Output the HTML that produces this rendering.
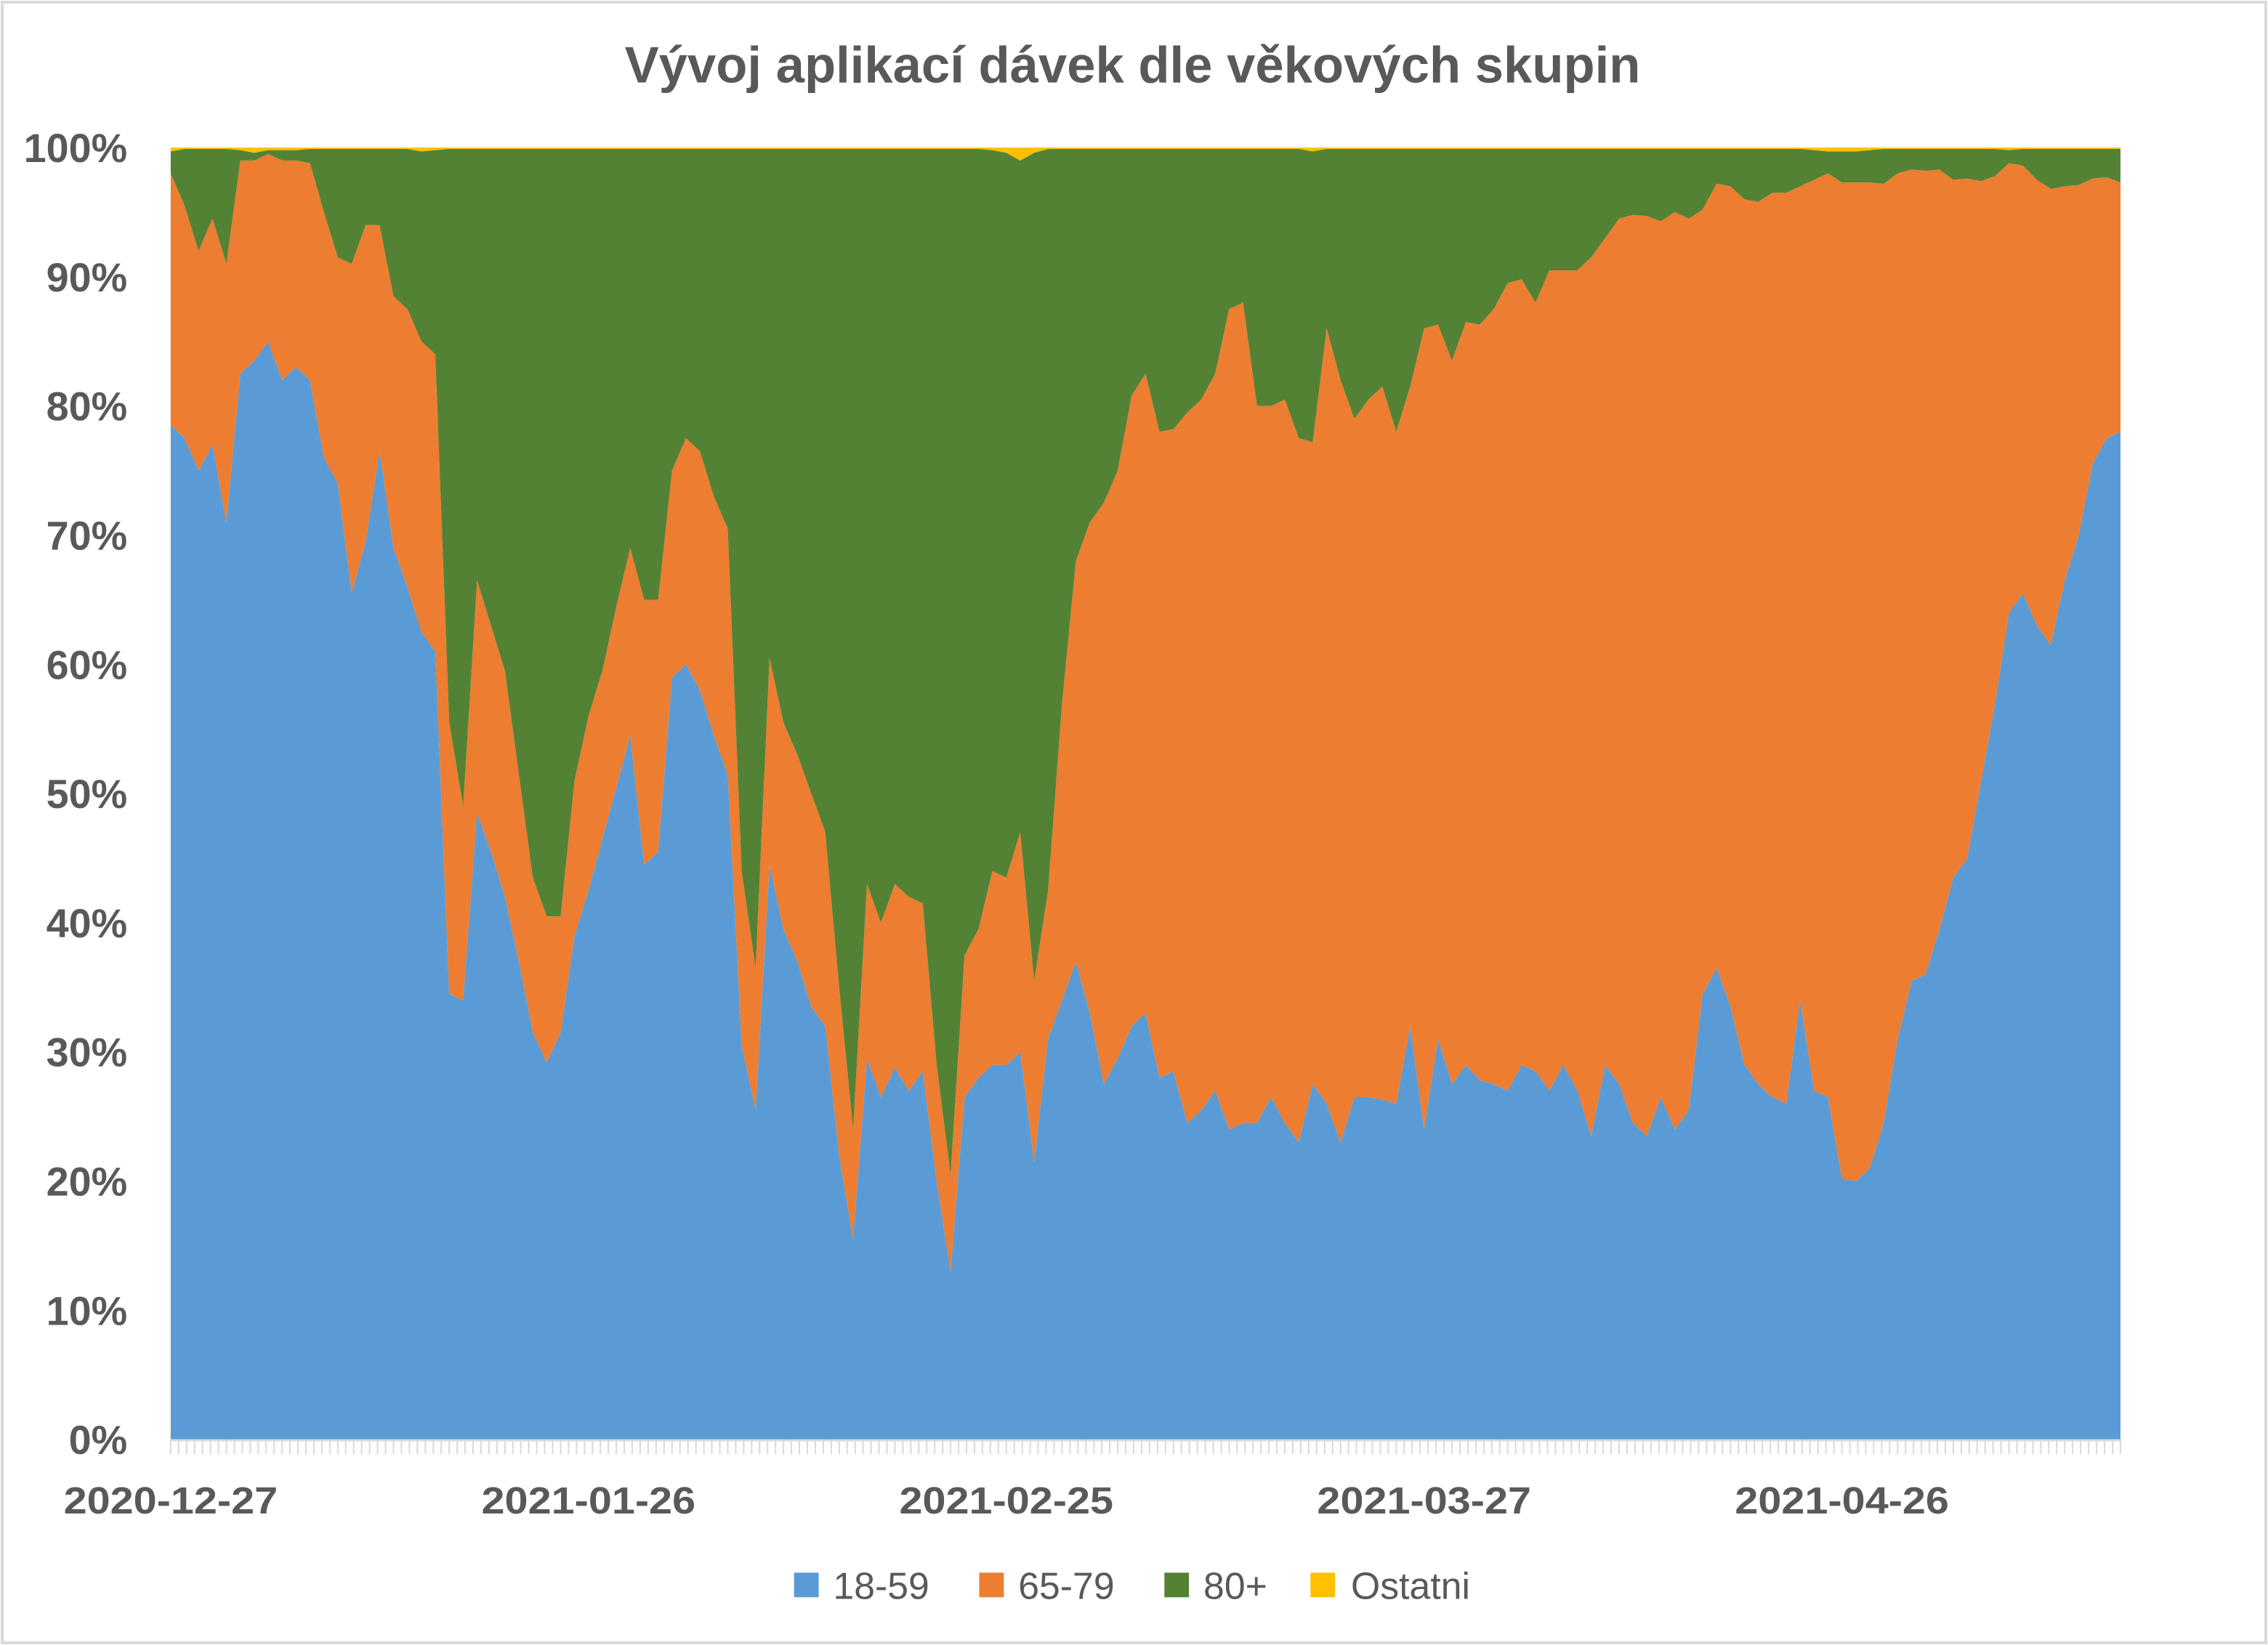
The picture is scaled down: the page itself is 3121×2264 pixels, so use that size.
<!DOCTYPE html>
<html><head><meta charset="utf-8"><style>
html,body{margin:0;padding:0;background:#fff;}
svg{display:block;}
text{font-family:"Liberation Sans",sans-serif;fill:#595959;}
</style></head><body>
<svg id="chart" width="3121" height="2264" viewBox="0 0 1568 1137" preserveAspectRatio="none" xmlns="http://www.w3.org/2000/svg">
<rect x="1.5" y="1.5" width="1565" height="1134" fill="#fff" stroke="#d9d9d9" stroke-width="2"/>
<text x="783" y="57" text-anchor="middle" font-size="35.5" font-weight="bold">Vývoj aplikací dávek dle věkových skupin</text>
<g id="plot"></g>
<g id="yaxis"></g>
<g id="xaxis"></g>
<g>
<rect x="549" y="1087" width="17" height="17" fill="#5b9bd5"/>
<text x="576" y="1105" font-size="26">18-59</text>
<rect x="677" y="1087" width="17" height="17" fill="#ed7d31"/>
<text x="704" y="1105" font-size="26">65-79</text>
<rect x="805" y="1087" width="17" height="17" fill="#548235"/>
<text x="832" y="1105" font-size="26">80+</text>
<rect x="906" y="1087" width="17" height="17" fill="#ffc000"/>
<text x="934" y="1105" font-size="26">Ostatni</text>
</g>
</svg>
<script>
const s1859 = [78.5,77.5,75,77,71,82.5,83.5,85,82,83,
82,76,74,65.5,69.5,76.5,69,66,62.5,61,
34.5,34,48.5,45.5,42,37,31.5,29.2,31.5,39,
42.5,46.5,50.5,54.5,44.5,45.5,59,60,58,54.5,
51.5,30.5,25.5,44.5,39.5,37,33.5,32,22,15.5,
29.5,26.5,28.8,27,28.5,20,13,26.5,28,29,
29,30,21.5,31,34,37,33,27.5,29.5,32,
33,28,28.5,24.5,25.5,27,24,24.5,24.5,26.5,
24.5,23,27.5,26,23,26.5,26.5,26.3,26,32,
24,31,27.5,29,27.8,27.5,27,29,28.5,27,
29,27,23.5,29,27.5,24.5,23.5,26.5,24,25.5,
34.5,36.5,33.5,29,27.5,26.5,26,34,27,26.5,
20.2,20,21,24.5,31,35.5,36,39.5,43.5,45,
51,57,64,65.5,63,61.5,66.5,70,75.5,77.5,78];
const cum6579 = [98,95.5,92,94.5,91,99,99,99.5,99,99,
98.8,95,91.5,91,94,94,88.5,87.5,85,84,
55.5,49,66.5,63,59.5,51.5,43.5,40.5,40.5,51,
56,59.5,64.5,69,65,65,75,77.5,76.5,73,
70.5,44,36.5,60.5,55.5,53,50,47,35,24,
43,40,43,42,41.5,29,20.5,37.5,39.5,44,
43.5,47,35.5,42.5,57,68,71,72.5,75,80.8,
82.5,78,78.2,79.5,80.5,82.5,87.5,88,80,80,
80.5,77.5,77.2,86,82,79,80.5,81.5,78,81.5,
86,86.3,83.5,86.5,86.3,87.5,89.5,89.8,88,90.5,
90.5,90.5,91.5,93,94.5,94.8,94.7,94.3,95,94.5,
95.2,97.2,97,96,95.8,96.5,96.5,97,97.5,98,
97.3,97.3,97.3,97.2,98,98.3,98.2,98.3,97.5,97.6,
97.4,97.8,98.8,98.6,97.5,96.8,97,97.1,97.6,97.7,97.3];
const ostatni = [0.3,0.1,0.1,0.1,0.1,0.2,0.4,0.2,0.2,0.2,
0.1,0.1,0.1,0.1,0.1,0.1,0.1,0.1,0.3,0.2,
0.1,0.1,0.1,0.1,0.1,0.1,0.1,0.1,0.1,0.1,
0.1,0.1,0.1,0.1,0.1,0.1,0.1,0.1,0.1,0.1,
0.1,0.1,0.1,0.1,0.1,0.1,0.1,0.1,0.1,0.1,
0.1,0.1,0.1,0.1,0.1,0.1,0.1,0.1,0.1,0.2,
0.4,1.0,0.4,0.1,0.1,0.1,0.1,0.1,0.1,0.1,
0.1,0.1,0.1,0.1,0.1,0.1,0.1,0.1,0.1,0.1,
0.1,0.1,0.3,0.1,0.1,0.1,0.1,0.1,0.1,0.1,
0.1,0.1,0.1,0.1,0.1,0.1,0.1,0.1,0.1,0.1,
0.1,0.1,0.1,0.1,0.1,0.1,0.1,0.1,0.1,0.1,
0.1,0.1,0.1,0.1,0.1,0.1,0.1,0.1,0.2,0.3,
0.3,0.3,0.2,0.1,0.1,0.1,0.1,0.1,0.1,0.1,
0.1,0.1,0.2,0.1,0.1,0.1,0.1,0.1,0.1,0.1,0.1];
const xLabels = ["2020-12-27","2021-01-26","2021-02-25","2021-03-27","2021-04-26"];
const xLabelIdx = [0,30,60,90,120];
const yTicks = [0,10,20,30,40,50,60,70,80,90,100];

const NS = "http://www.w3.org/2000/svg";
const X0 = 118, X1 = 1466, Y0 = 995, Y1 = 102;
const n = s1859.length;
const xs = i => X0 + (X1 - X0) * i / (n - 1);
const ys = v => Y0 - (Y0 - Y1) * v / 100;
function mk(tag, attrs, parent){const e=document.createElementNS(NS,tag);for(const k in attrs)e.setAttribute(k,attrs[k]);parent.appendChild(e);return e;}
const plot = document.getElementById('plot');
const top1 = s1859.slice();
const top2 = cum6579.slice();
const top3 = cum6579.map((v,i)=>100-ostatni[i]);
const top4 = s1859.map(()=>100);
function band(lo, hi, color, name){
  let d = "M" + xs(0) + "," + ys(hi[0]);
  for(let i=1;i<n;i++) d += "L" + xs(i) + "," + ys(hi[i]);
  for(let i=n-1;i>=0;i--) d += "L" + xs(i) + "," + ys(lo ? lo[i] : 0);
  const p = mk('path',{d:d+"Z",fill:color},plot);
  
  
}
band(null, top1, "#5b9bd5", "area-18-59");
band(top1, top2, "#ed7d31", "area-65-79");
band(top2, top3, "#548235", "area-80-plus");
band(top3, top4, "#ffc000", "area-ostatni");

const ya = document.getElementById('yaxis');
yTicks.forEach(t=>{
  const tx = mk('text',{x:88,y:ys(t)+10,'text-anchor':'end','font-size':28,'font-weight':'bold'},ya);
  tx.textContent = t + "%";
  
  
});
const xa = document.getElementById('xaxis');
const al = mk('line',{x1:X0,y1:Y0+0.5,x2:X1,y2:Y0+0.5,stroke:'#d9d9d9','stroke-width':1.5},xa);


const step = (xs(30)-xs(0))/52.5;
for(let x=X0;x<=X1+0.5;x+=step){
  const tk = mk('line',{x1:x,y1:Y0,x2:x,y2:Y0+10,stroke:'#d9d9d9','stroke-width':1},xa);
  
  
}
xLabels.forEach((l,k)=>{
  const tx = mk('text',{x:xs(xLabelIdx[k]),y:1046,'text-anchor':'middle','font-size':26,'font-weight':'bold','textLength':148,'lengthAdjust':'spacingAndGlyphs'},xa);
  tx.textContent = l;
  
  
});
</script>
</body></html>
